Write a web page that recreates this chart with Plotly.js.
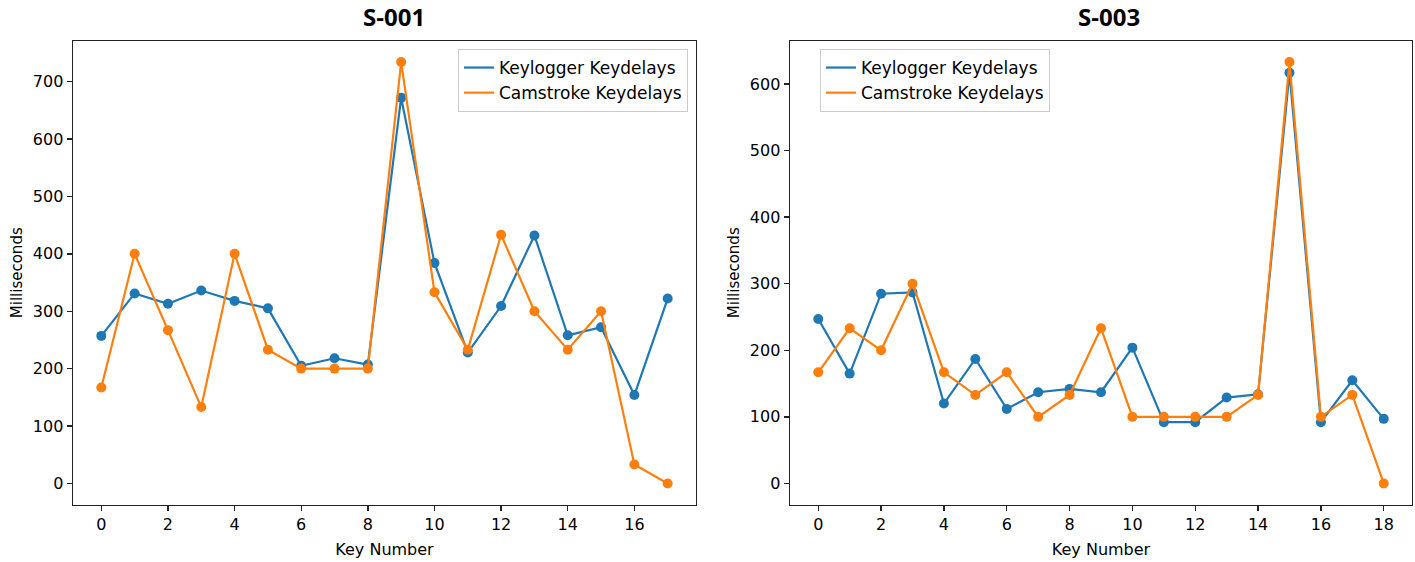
<!DOCTYPE html>
<html>
<head>
<meta charset="utf-8">
<script src="https://cdn.plot.ly/plotly-3.0.1.min.js"></script>
<style>html,body{margin:0;padding:0;background:#fff;} #chart{width:1415px;height:562px;}</style>
</head>
<body>
<div id="chart"></div>
<script>
// Key numbers
const keysS001 = [0,1,2,3,4,5,6,7,8,9,10,11,12,13,14,15,16,17];
const keysS003 = [0,1,2,3,4,5,6,7,8,9,10,11,12,13,14,15,16,17,18];

// S-001 key delays (ms)
const keyloggerS001 = [257,331,313,336,318,305,205,218,207,672,384,228,309,432,258,272,154,322];
const camstrokeS001 = [167,400,267,133,400,233,200,200,200,734,333,233,433,300,233,300,33,0];

// S-003 key delays (ms)
const keyloggerS003 = [247,165,285,287,120,187,112,137,142,137,204,92,92,129,134,617,92,155,97];
const camstrokeS003 = [167,233,200,300,167,133,167,100,133,233,100,100,100,100,133,633,100,133,0];

// labels
const subplotTitles = ["S-001", "S-003"];
const seriesNames = ["Keylogger Keydelays", "Camstroke Keydelays"];
const xTitle = "Key Number";
const yTitle = "Milliseconds";
const xTicksS001 = [0,2,4,6,8,10,12,14,16];
const xTicksS003 = [0,2,4,6,8,10,12,14,16,18];
const yTicksS001 = [0,100,200,300,400,500,600,700];
const yTicksS003 = [0,100,200,300,400,500,600];

const BLUE = "#1f77b4";
const ORANGE = "#ff7f0e";
const FONT = "DejaVu Sans, sans-serif";

function pair(x, y, name, color, xa, ya, legend) {
  return [
    {x: x, y: y, name: name, type: "scatter", mode: "lines",
     line: {color: color, width: 2.2}, xaxis: xa, yaxis: ya, legend: legend, hoverinfo: "skip"},
    {x: x, y: y, name: name, type: "scatter", mode: "markers", showlegend: false,
     marker: {color: color, size: 10}, xaxis: xa, yaxis: ya, hoverinfo: "skip"}
  ];
}

const data = [].concat(
  pair(keysS001, keyloggerS001, seriesNames[0], BLUE, "x", "y", "legend"),
  pair(keysS001, camstrokeS001, seriesNames[1], ORANGE, "x", "y", "legend"),
  pair(keysS003, keyloggerS003, seriesNames[0], BLUE, "x2", "y2", "legend2"),
  pair(keysS003, camstrokeS003, seriesNames[1], ORANGE, "x2", "y2", "legend2")
);

const W = 1415, H = 562;
const yTop = 1 - 41/H, yBot = 1 - 504.5/H;

function xAxis(domain, range, ticks, anchor) {
  return {
    domain: domain, range: range, anchor: anchor, tickvals: ticks,
    showgrid: false, zeroline: false, showline: true, mirror: true,
    linecolor: "#222", linewidth: 1.4, ticks: "outside", ticklen: 5, tickwidth: 1.4, tickcolor: "#222",
    tickfont: {family: FONT, size: 16, color: "#000"},
    title: {text: xTitle, font: {family: FONT, size: 16, color: "#000"}, standoff: 10},
    automargin: false
  };
}
function yAxis(domain, range, ticks, anchor) {
  return {
    domain: domain, range: range, anchor: anchor, tickvals: ticks,
    showgrid: false, zeroline: false, showline: true, mirror: true,
    linecolor: "#222", linewidth: 1.4, ticks: "outside", ticklen: 5, tickwidth: 1.4, tickcolor: "#222",
    tickfont: {family: FONT, size: 16, color: "#000"},
    title: {text: yTitle, font: {family: FONT, size: 15, color: "#000"}, standoff: 6},
    automargin: false
  };
}

const legendStyle = {
  bgcolor: "rgba(255,255,255,0.8)", bordercolor: "#cccccc", borderwidth: 1,
  font: {family: FONT, size: 17, color: "#000"},
  xanchor: "right", yanchor: "top", yref: "paper", xref: "paper",
  tracegroupgap: 0, itemwidth: 30
};

const layout = {
  width: W, height: H,
  margin: {l: 0, r: 0, t: 0, b: 0},
  paper_bgcolor: "#fff", plot_bgcolor: "#fff",
  showlegend: true,
  xaxis: xAxis([73/W, 696/W], [-0.85, 17.85], xTicksS001, "y"),
  yaxis: yAxis([yBot, yTop], [-36.7, 770.7], yTicksS001, "x"),
  xaxis2: xAxis([790/W, 1412/W], [-0.9, 18.9], xTicksS003, "y2"),
  yaxis2: yAxis([yBot, yTop], [-31.65, 664.65], yTicksS003, "x2"),
  legend: Object.assign({}, legendStyle, {x: 688/W, y: 1 - 49/H}),
  legend2: Object.assign({}, legendStyle, {x: 1050/W, y: 1 - 49/H}),
  annotations: [
    {text: "<b>" + subplotTitles[0] + "</b>", xref: "paper", yref: "paper",
     x: 394/W, y: 1 - 16/H, xanchor: "center", yanchor: "middle", showarrow: false,
     font: {family: "Open Sans, sans-serif", size: 24, color: "#000"}},
    {text: "<b>" + subplotTitles[1] + "</b>", xref: "paper", yref: "paper",
     x: 1109/W, y: 1 - 16/H, xanchor: "center", yanchor: "middle", showarrow: false,
     font: {family: "Open Sans, sans-serif", size: 24, color: "#000"}}
  ]
};

Plotly.newPlot("chart", data, layout, {staticPlot: true, displayModeBar: false});
</script>
</body>
</html>
